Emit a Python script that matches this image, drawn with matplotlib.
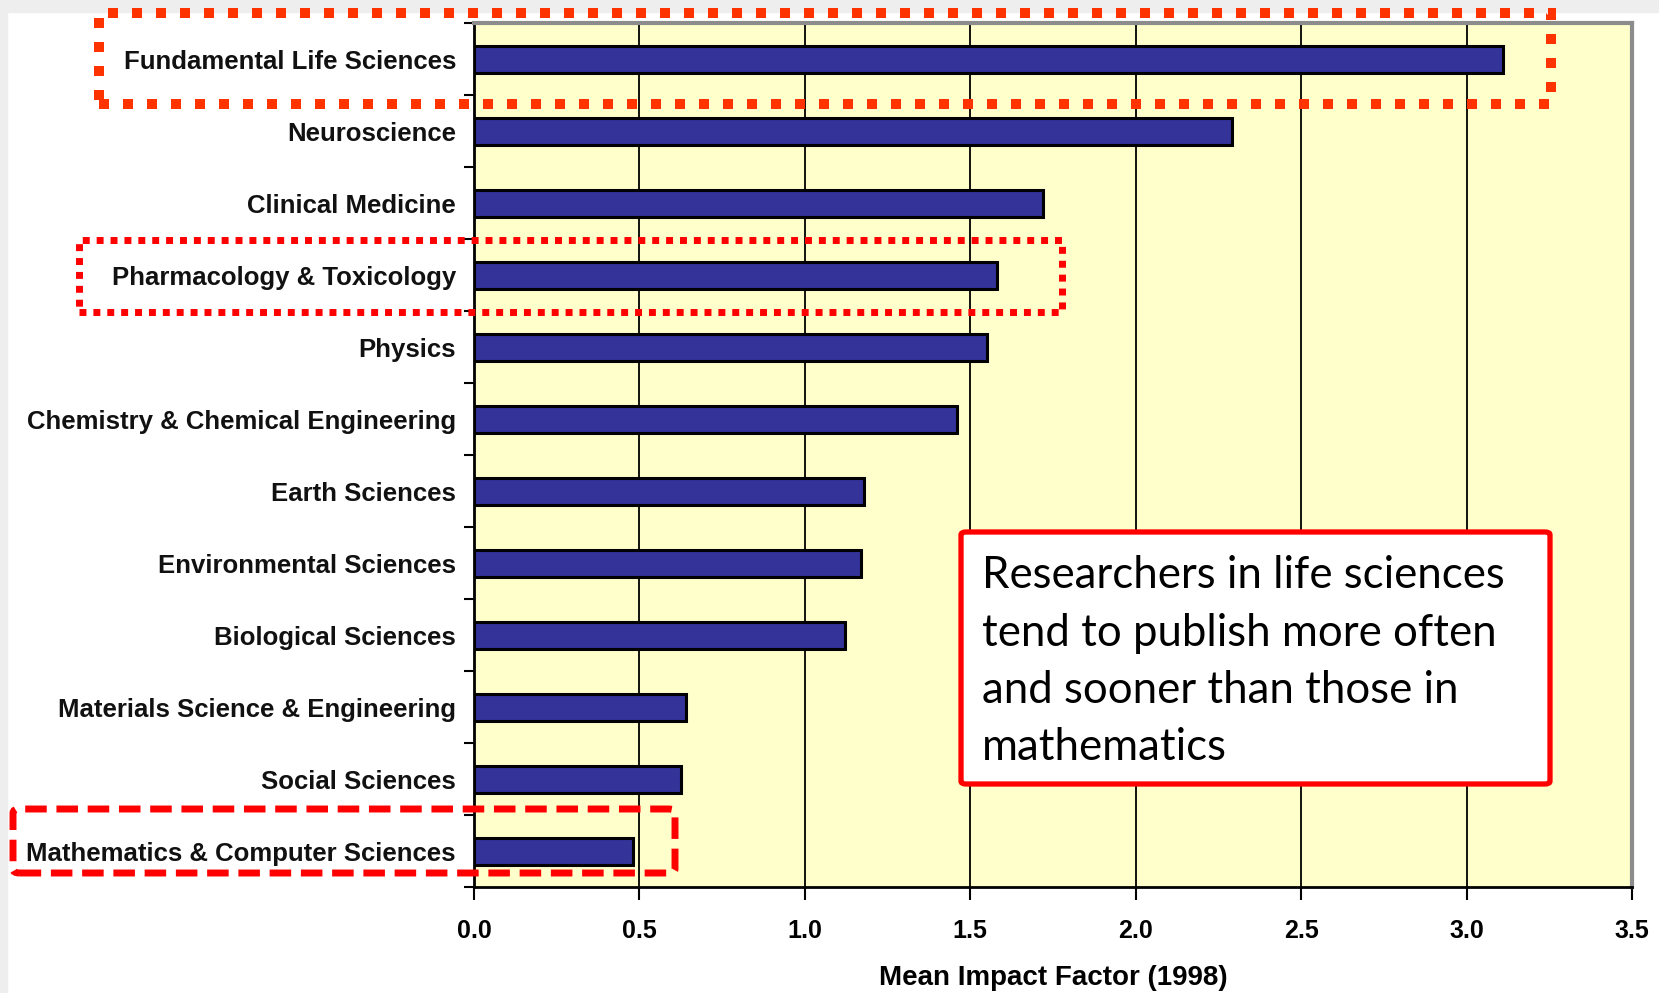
import matplotlib as mpl
import matplotlib.pyplot as plt
from matplotlib.patches import Rectangle, FancyBboxPatch

mpl.rcParams['font.family'] = 'Liberation Sans'

# data (top to bottom)
fields = [
    "Fundamental Life Sciences",
    "Neuroscience",
    "Clinical Medicine",
    "Pharmacology & Toxicology",
    "Physics",
    "Chemistry & Chemical Engineering",
    "Earth Sciences",
    "Environmental Sciences",
    "Biological Sciences",
    "Materials Science & Engineering",
    "Social Sciences",
    "Mathematics & Computer Sciences",
]
impact = [3.11, 2.29, 1.72, 1.58, 1.55, 1.46, 1.18, 1.17, 1.12, 0.64, 0.625, 0.48]
xticks = [0.0, 0.5, 1.0, 1.5, 2.0, 2.5, 3.0, 3.5]
note = ("Researchers in life sciences\ntend to publish more often\n"
        "and sooner than those in\nmathematics")

W, H = 1659, 993
fig = plt.figure(figsize=(W / 100, H / 100), dpi=100)
fig.patch.set_facecolor('white')


def px(x0, y0, x1, y1):
    # image pixels (top-left origin) -> figure fraction rect
    return x0 / W, 1 - y1 / H, (x1 - x0) / W, (y1 - y0) / H


# screenshot frame (light grey strip top and left)
fig.patches.append(Rectangle(px(0, 0, W, 12)[:2], *px(0, 0, W, 12)[2:],
                             transform=fig.transFigure, color='#eeeeee', zorder=0))
fig.patches.append(Rectangle(px(0, 0, 7, H)[:2], *px(0, 0, 7, H)[2:],
                             transform=fig.transFigure, color='#eeeeee', zorder=0))

ax = fig.add_axes([474 / W, 1 - 887 / H, (1632 - 474) / W, (887 - 23) / H])
ax.set_facecolor('#FFFFCC')

y = list(range(len(fields)))
ax.barh(y, impact, height=0.375, color='#333399', edgecolor='black',
        linewidth=2.2, zorder=3)

ax.set_xlim(0, 3.5)
ax.set_ylim(len(fields) - 0.5, -0.5)
ax.set_xticks(xticks)
ax.set_xticklabels([f"{t:.1f}" for t in xticks], fontsize=18, fontweight='bold')
ax.set_yticks(y)
ax.set_yticklabels(fields, fontsize=18.5, fontweight='bold', color='#111111')
ax.set_yticks([i - 0.5 for i in range(len(fields) + 1)], minor=True)
ax.tick_params(axis='y', which='major', length=0, pad=13)
ax.tick_params(axis='y', which='minor', length=7, width=1.5, direction='out')
ax.tick_params(axis='x', length=9, width=1.5, direction='out', pad=14)
ax.grid(True, axis='x', color='black', linewidth=1.3, zorder=1)
ax.set_axisbelow(True)
ax.set_xlabel("Mean Impact Factor (1998)", fontsize=20, fontweight='bold', labelpad=16)

for side in ['left', 'bottom']:
    ax.spines[side].set_linewidth(2)
    ax.spines[side].set_color('black')
for side in ['top', 'right']:
    ax.spines[side].set_linewidth(3)
    ax.spines[side].set_color('#8c8c8c')

# highlight boxes
box_a = Rectangle(px(99, 13, 1551, 104)[:2], *px(99, 13, 1551, 104)[2:],
                  transform=fig.transFigure, fill=False, edgecolor='#FF3300',
                  linewidth=7.2, linestyle=(0, (1, 1.4)), zorder=10)
box_b = Rectangle(px(79, 240, 1062, 312)[:2], *px(79, 240, 1062, 312)[2:],
                  transform=fig.transFigure, fill=False, edgecolor='#FF0000',
                  linewidth=5, linestyle=(0, (1, 1)), zorder=10)
box_c = FancyBboxPatch(px(13, 809, 675, 873)[:2], *px(13, 809, 675, 873)[2:],
                       boxstyle='round,pad=0,rounding_size=0.004',
                       transform=fig.transFigure, fill=False, edgecolor='#FF0000',
                       linewidth=5, linestyle=(0, (3.1, 1.4)), zorder=10)
note_box = FancyBboxPatch(px(961, 532, 1550, 784)[:2], *px(961, 532, 1550, 784)[2:],
                          boxstyle='round,pad=0,rounding_size=0.003',
                          transform=fig.transFigure, facecolor='white',
                          edgecolor='#FF0000', linewidth=3.8, zorder=9)
for p in [box_a, box_b, box_c, note_box]:
    fig.patches.append(p)

fig.text(982 / W, 1 - 555 / H, note, fontsize=31.5, family='Lato',
         ha='left', va='top', linespacing=1.5, zorder=11)

fig.savefig('out.png', dpi=100)
